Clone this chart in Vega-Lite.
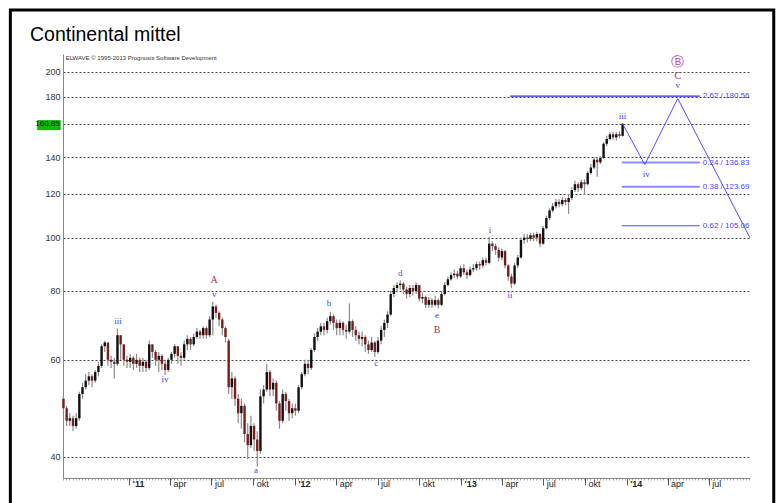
{
  "$schema": "https://vega.github.io/schema/vega-lite/v6.json",
  "width": 687,
  "height": 424,
  "autosize": {"type": "none"},
  "padding": {"left": 63, "top": 54, "right": 28, "bottom": 25},
  "background": "white",
  "title": {"text": "Continental mittel", "anchor": "start", "frame": "group", "dx": -33, "offset": -52, "baseline": "alphabetic", "fontSize": 19.5, "fontWeight": "normal", "font": "Liberation Sans", "color": "#000"},
  "datasets": {
    "w": [
      {"d":"2010-08-09","o":51,"h":52,"l":48,"c":49},
      {"d":"2010-08-16","o":49,"h":49.5,"l":45.5,"c":46.5},
      {"d":"2010-08-23","o":46.5,"h":48,"l":45.5,"c":47},
      {"d":"2010-08-30","o":47,"h":47.5,"l":44.5,"c":45.5},
      {"d":"2010-09-06","o":45.5,"h":48,"l":45,"c":47},
      {"d":"2010-09-13","o":47,"h":52.5,"l":46.5,"c":52},
      {"d":"2010-09-20","o":52,"h":54.5,"l":51,"c":53.5},
      {"d":"2010-09-27","o":53.5,"h":56.5,"l":53,"c":55},
      {"d":"2010-10-04","o":55,"h":57,"l":54,"c":56},
      {"d":"2010-10-11","o":56,"h":56.5,"l":53.5,"c":55},
      {"d":"2010-10-18","o":55,"h":57.5,"l":54.5,"c":57},
      {"d":"2010-10-25","o":57,"h":59.5,"l":56,"c":58.5},
      {"d":"2010-11-01","o":58.5,"h":64,"l":58,"c":63.5},
      {"d":"2010-11-08","o":63.5,"h":65,"l":62,"c":64.5},
      {"d":"2010-11-15","o":64.5,"h":64.5,"l":58.5,"c":60},
      {"d":"2010-11-22","o":60,"h":61,"l":58,"c":59.5},
      {"d":"2010-11-29","o":59.5,"h":60.5,"l":55.5,"c":59},
      {"d":"2010-12-06","o":59,"h":68.4,"l":58.5,"c":66.5},
      {"d":"2010-12-13","o":66.5,"h":66.5,"l":60,"c":64},
      {"d":"2010-12-20","o":64,"h":64,"l":58.5,"c":60},
      {"d":"2010-12-27","o":60,"h":61,"l":58,"c":59.5},
      {"d":"2011-01-03","o":59.5,"h":61.5,"l":58,"c":60.5},
      {"d":"2011-01-10","o":60.5,"h":61,"l":57.5,"c":59},
      {"d":"2011-01-17","o":59,"h":61.5,"l":58,"c":60},
      {"d":"2011-01-24","o":60,"h":60.5,"l":57,"c":58.5},
      {"d":"2011-01-31","o":58.5,"h":60.5,"l":57,"c":59.5},
      {"d":"2011-02-07","o":59.5,"h":60,"l":57,"c":58},
      {"d":"2011-02-14","o":58,"h":65,"l":57.5,"c":64},
      {"d":"2011-02-21","o":64,"h":64,"l":60.5,"c":62},
      {"d":"2011-02-28","o":62,"h":62.5,"l":58.5,"c":60},
      {"d":"2011-03-07","o":60,"h":62,"l":57,"c":61},
      {"d":"2011-03-14","o":61,"h":61.5,"l":57.5,"c":59},
      {"d":"2011-03-21","o":59,"h":60,"l":56.3,"c":57.5},
      {"d":"2011-03-28","o":57.5,"h":60.5,"l":57,"c":60},
      {"d":"2011-04-04","o":60,"h":62,"l":59,"c":61.5},
      {"d":"2011-04-11","o":61.5,"h":64,"l":60.5,"c":63.5},
      {"d":"2011-04-18","o":63.5,"h":63.5,"l":59,"c":61},
      {"d":"2011-04-25","o":61,"h":62,"l":58.5,"c":60.5},
      {"d":"2011-05-02","o":60.5,"h":65,"l":60,"c":64},
      {"d":"2011-05-09","o":64,"h":66.5,"l":62.5,"c":65.5},
      {"d":"2011-05-16","o":65.5,"h":66,"l":62.5,"c":64},
      {"d":"2011-05-23","o":64,"h":67,"l":63.5,"c":66},
      {"d":"2011-05-30","o":66,"h":68.5,"l":65.5,"c":67.5},
      {"d":"2011-06-06","o":67.5,"h":68,"l":65.5,"c":66.5},
      {"d":"2011-06-13","o":66.5,"h":69,"l":65.5,"c":68.5},
      {"d":"2011-06-20","o":68.5,"h":69,"l":65.5,"c":66.5},
      {"d":"2011-06-27","o":66.5,"h":72,"l":66,"c":71},
      {"d":"2011-07-04","o":71,"h":76.5,"l":66.5,"c":75},
      {"d":"2011-07-11","o":75,"h":75.5,"l":71.5,"c":73},
      {"d":"2011-07-18","o":73,"h":73.5,"l":69,"c":71},
      {"d":"2011-07-25","o":71,"h":71.5,"l":66.5,"c":68.5},
      {"d":"2011-08-01","o":68.5,"h":69,"l":64.5,"c":66},
      {"d":"2011-08-08","o":65,"h":65.5,"l":52,"c":53.5},
      {"d":"2011-08-15","o":53.5,"h":57,"l":51,"c":55.5},
      {"d":"2011-08-22","o":55.5,"h":56,"l":49.5,"c":51},
      {"d":"2011-08-29","o":51,"h":52,"l":46,"c":48},
      {"d":"2011-09-05","o":48,"h":51,"l":45,"c":49.5},
      {"d":"2011-09-12","o":49.5,"h":50,"l":42.5,"c":44},
      {"d":"2011-09-19","o":44,"h":46,"l":39.6,"c":42},
      {"d":"2011-09-26","o":42,"h":47.5,"l":41.5,"c":45.5},
      {"d":"2011-10-03","o":45.5,"h":46,"l":41,"c":43},
      {"d":"2011-10-10","o":43,"h":44.5,"l":38.4,"c":41},
      {"d":"2011-10-17","o":41,"h":53,"l":40.5,"c":51.5},
      {"d":"2011-10-24","o":51.5,"h":54,"l":50,"c":53},
      {"d":"2011-10-31","o":53,"h":59,"l":52.5,"c":57},
      {"d":"2011-11-07","o":57,"h":57.5,"l":51.5,"c":53},
      {"d":"2011-11-14","o":53,"h":55.5,"l":51.5,"c":54.5},
      {"d":"2011-11-21","o":54.5,"h":55,"l":48.5,"c":50},
      {"d":"2011-11-28","o":50,"h":50.5,"l":45,"c":46.5},
      {"d":"2011-12-05","o":46.5,"h":53,"l":46,"c":52},
      {"d":"2011-12-12","o":52,"h":52.5,"l":48.5,"c":50.5},
      {"d":"2011-12-19","o":50.5,"h":51,"l":46.5,"c":48},
      {"d":"2011-12-26","o":48,"h":50,"l":47,"c":49},
      {"d":"2012-01-02","o":49,"h":50,"l":47.5,"c":48.5},
      {"d":"2012-01-09","o":48.5,"h":54,"l":48,"c":53.5},
      {"d":"2012-01-16","o":53.5,"h":57,"l":53,"c":56.5},
      {"d":"2012-01-23","o":56.5,"h":60,"l":56,"c":59},
      {"d":"2012-01-30","o":59,"h":60,"l":56.5,"c":58},
      {"d":"2012-02-06","o":58,"h":63,"l":57.5,"c":62.5},
      {"d":"2012-02-13","o":62.5,"h":67,"l":62,"c":66},
      {"d":"2012-02-20","o":66,"h":68.5,"l":65,"c":67.5},
      {"d":"2012-02-27","o":67.5,"h":70,"l":66.5,"c":69},
      {"d":"2012-03-05","o":69,"h":70,"l":66.5,"c":68},
      {"d":"2012-03-12","o":68,"h":71.5,"l":67,"c":70.5},
      {"d":"2012-03-19","o":70.5,"h":73.3,"l":69.5,"c":72},
      {"d":"2012-03-26","o":72,"h":72.5,"l":68,"c":70},
      {"d":"2012-04-02","o":70,"h":71,"l":66.5,"c":68.5},
      {"d":"2012-04-09","o":68.5,"h":71,"l":66.5,"c":70},
      {"d":"2012-04-16","o":70,"h":70.5,"l":66.5,"c":68},
      {"d":"2012-04-23","o":68,"h":69.5,"l":65.5,"c":67.5},
      {"d":"2012-04-30","o":67.5,"h":76,"l":67,"c":70.5},
      {"d":"2012-05-07","o":70.5,"h":71,"l":66,"c":68},
      {"d":"2012-05-14","o":68,"h":69,"l":65,"c":66.5},
      {"d":"2012-05-21","o":66.5,"h":67.5,"l":64,"c":65.5},
      {"d":"2012-05-28","o":65.5,"h":67.5,"l":63.5,"c":66},
      {"d":"2012-06-04","o":66,"h":66.5,"l":62,"c":64},
      {"d":"2012-06-11","o":64,"h":65,"l":61.5,"c":62.5},
      {"d":"2012-06-18","o":62.5,"h":66,"l":62,"c":64.5},
      {"d":"2012-06-25","o":64.5,"h":65,"l":60.8,"c":62},
      {"d":"2012-07-02","o":62,"h":66,"l":61.5,"c":65},
      {"d":"2012-07-09","o":65,"h":69,"l":64,"c":68},
      {"d":"2012-07-16","o":68,"h":71,"l":66,"c":70},
      {"d":"2012-07-23","o":70,"h":73.5,"l":68.5,"c":72.5},
      {"d":"2012-07-30","o":72.5,"h":80,"l":72,"c":79},
      {"d":"2012-08-06","o":79,"h":82,"l":78,"c":81},
      {"d":"2012-08-13","o":81,"h":83,"l":79.5,"c":82},
      {"d":"2012-08-20","o":82,"h":83.7,"l":80.5,"c":82.5},
      {"d":"2012-08-27","o":82.5,"h":83,"l":79,"c":80.5},
      {"d":"2012-09-03","o":80.5,"h":81.5,"l":77.5,"c":79},
      {"d":"2012-09-10","o":79,"h":82,"l":78,"c":81},
      {"d":"2012-09-17","o":81,"h":82,"l":78.5,"c":80},
      {"d":"2012-09-24","o":80,"h":83,"l":79,"c":82},
      {"d":"2012-10-01","o":82,"h":82,"l":76.5,"c":77.5},
      {"d":"2012-10-08","o":77.5,"h":79.5,"l":76,"c":78},
      {"d":"2012-10-15","o":78,"h":78.5,"l":74.5,"c":75.5},
      {"d":"2012-10-22","o":75.5,"h":78,"l":74.5,"c":77},
      {"d":"2012-10-29","o":77,"h":77.5,"l":74.5,"c":75.5},
      {"d":"2012-11-05","o":75.5,"h":78.5,"l":75,"c":77},
      {"d":"2012-11-12","o":77,"h":77.5,"l":74.4,"c":75.5},
      {"d":"2012-11-19","o":75.5,"h":80,"l":75,"c":79},
      {"d":"2012-11-26","o":79,"h":83,"l":78.5,"c":82},
      {"d":"2012-12-03","o":82,"h":85,"l":81.5,"c":84},
      {"d":"2012-12-10","o":84,"h":86.5,"l":83.5,"c":85.5},
      {"d":"2012-12-17","o":85.5,"h":87.5,"l":84.5,"c":86},
      {"d":"2012-12-24","o":86,"h":87,"l":84,"c":85},
      {"d":"2012-12-31","o":85,"h":89,"l":84.5,"c":88},
      {"d":"2013-01-07","o":88,"h":89.5,"l":85.5,"c":86.5},
      {"d":"2013-01-14","o":86.5,"h":87.5,"l":84,"c":85.5},
      {"d":"2013-01-21","o":85.5,"h":88.5,"l":85,"c":87.5},
      {"d":"2013-01-28","o":87.5,"h":89.5,"l":86.5,"c":88},
      {"d":"2013-02-04","o":88,"h":90.5,"l":87,"c":89.5},
      {"d":"2013-02-11","o":89.5,"h":90.5,"l":87.5,"c":89},
      {"d":"2013-02-18","o":89,"h":92,"l":88,"c":91},
      {"d":"2013-02-25","o":91,"h":92,"l":89,"c":90},
      {"d":"2013-03-04","o":90,"h":100.3,"l":89.5,"c":97.5},
      {"d":"2013-03-11","o":97.5,"h":98.5,"l":94.5,"c":96.5},
      {"d":"2013-03-18","o":96.5,"h":97.5,"l":93,"c":95},
      {"d":"2013-03-25","o":95,"h":96,"l":90.5,"c":92},
      {"d":"2013-04-01","o":92,"h":95.5,"l":91,"c":94.5},
      {"d":"2013-04-08","o":94.5,"h":95,"l":88,"c":89},
      {"d":"2013-04-15","o":89,"h":89.5,"l":83.5,"c":85},
      {"d":"2013-04-22","o":85,"h":86,"l":80.9,"c":82.5},
      {"d":"2013-04-29","o":82.5,"h":90,"l":82,"c":89},
      {"d":"2013-05-06","o":89,"h":93,"l":88,"c":92},
      {"d":"2013-05-13","o":92,"h":100,"l":91.5,"c":99},
      {"d":"2013-05-20","o":99,"h":101.5,"l":97.5,"c":100},
      {"d":"2013-05-27","o":100,"h":101.5,"l":98,"c":99.5},
      {"d":"2013-06-03","o":99.5,"h":102,"l":98.5,"c":101},
      {"d":"2013-06-10","o":101,"h":102,"l":98.5,"c":100},
      {"d":"2013-06-17","o":100,"h":102.5,"l":98.5,"c":101.5},
      {"d":"2013-06-24","o":101.5,"h":102,"l":96,"c":97.5},
      {"d":"2013-07-01","o":97.5,"h":105,"l":97,"c":104},
      {"d":"2013-07-08","o":104,"h":109.5,"l":103.5,"c":108.5},
      {"d":"2013-07-15","o":108.5,"h":113,"l":107.5,"c":112},
      {"d":"2013-07-22","o":112,"h":115.5,"l":111,"c":114},
      {"d":"2013-07-29","o":114,"h":117.5,"l":113,"c":116},
      {"d":"2013-08-05","o":116,"h":117.5,"l":113.5,"c":115},
      {"d":"2013-08-12","o":115,"h":118.5,"l":114,"c":117},
      {"d":"2013-08-19","o":117,"h":118,"l":114.5,"c":116},
      {"d":"2013-08-26","o":116,"h":120,"l":110.5,"c":118},
      {"d":"2013-09-02","o":118,"h":123.5,"l":117,"c":122},
      {"d":"2013-09-09","o":122,"h":127,"l":121,"c":125},
      {"d":"2013-09-16","o":125,"h":126,"l":121,"c":123},
      {"d":"2013-09-23","o":123,"h":127.5,"l":122,"c":126},
      {"d":"2013-09-30","o":126,"h":127.5,"l":119.5,"c":125},
      {"d":"2013-10-07","o":125,"h":132,"l":124.5,"c":131},
      {"d":"2013-10-14","o":131,"h":136,"l":130,"c":134},
      {"d":"2013-10-21","o":134,"h":140,"l":133,"c":138.5},
      {"d":"2013-10-28","o":138.5,"h":140,"l":129,"c":137},
      {"d":"2013-11-04","o":137,"h":140.5,"l":136,"c":139.5},
      {"d":"2013-11-11","o":139.5,"h":149,"l":139,"c":148},
      {"d":"2013-11-18","o":148,"h":153,"l":146.5,"c":151},
      {"d":"2013-11-25","o":151,"h":155.5,"l":150,"c":154},
      {"d":"2013-12-02","o":154,"h":155.5,"l":150.5,"c":152},
      {"d":"2013-12-09","o":152,"h":155.5,"l":150,"c":154},
      {"d":"2013-12-16","o":154,"h":156,"l":151.5,"c":153},
      {"d":"2013-12-23","o":153,"h":161.5,"l":152.5,"c":160.85}
    ],
    "waves": [
      {"d":"2010-12-07","p":70.6,"t":"iii","g":"minor"},
      {"d":"2011-03-21","p":55.3,"t":"iv","g":"minor"},
      {"d":"2011-07-07","p":79.0,"t":"v","g":"minor"},
      {"d":"2011-07-07","p":83.6,"t":"A","g":"inter"},
      {"d":"2011-10-07","p":37.9,"t":"a","g":"minor"},
      {"d":"2012-03-16","p":76.2,"t":"b","g":"minor"},
      {"d":"2012-06-28","p":59.1,"t":"c","g":"minor"},
      {"d":"2012-08-20","p":86.4,"t":"d","g":"minor"},
      {"d":"2012-11-09","p":72.4,"t":"e","g":"minor"},
      {"d":"2012-11-09","p":68.1,"t":"B","g":"inter"},
      {"d":"2013-03-06","p":103.4,"t":"i","g":"minor"},
      {"d":"2013-04-19","p":78.8,"t":"ii","g":"minor"},
      {"d":"2013-12-23","p":165.9,"t":"iii","g":"minor"},
      {"d":"2014-02-13","p":130.7,"t":"iv","g":"minor"},
      {"d":"2014-04-23T12:00:00Z","p":189.2,"t":"v","g":"minor"},
      {"d":"2014-04-23T12:00:00Z","p":196.8,"t":"C","g":"inter"},
      {"d":"2014-04-23T12:00:00Z","p":208.7,"t":"Ⓑ","g":"primary"}
    ],
    "proj": [
      {"d":"2013-12-23","p":160.85},
      {"d":"2014-02-10","p":135.7},
      {"d":"2014-04-23T12:00:00Z","p":178.8},
      {"d":"2014-09-29T16:00:00Z","p":99.9}
    ],
    "fib": [
      {"a":"2013-04-19","b":"2014-06-11","v":180.56,"t":"2.62 / 180.56","k":"ext"},
      {"a":"2013-12-21","b":"2014-06-11","v":136.83,"t":"0.24 / 136.83","k":"light"},
      {"a":"2013-12-21","b":"2014-06-11","v":123.69,"t":"0.38 / 123.69","k":"light"},
      {"a":"2013-12-21","b":"2014-06-11","v":105.06,"t":"0.62 / 105.06","k":"mid"}
    ],
    "tag": [{"a":"2010-06-12","b":"2010-08-03","lo":156.7,"hi":163.4,"v":160.85,"t":"160.85"}],
    "frame": [{"a":"2010-04-14","b":"2014-11-21","lo":31.4,"hi":258.9}],
    "note": [{"d":"2010-08-14","p":211.8,"t":"ELWAVE © 1995-2013 Prognosis Software Development"}]
  },
  "layer": [
    {
      "data": {"name": "frame"},
      "mark": {"type": "rect", "filled": false, "stroke": "#000", "strokeWidth": 3},
      "encoding": {
        "x": {"field": "a", "type": "temporal", "scale": {"type": "utc", "domain": ["2010-08-08T00:00:00Z", "2014-09-29T16:00:00Z"], "nice": false, "padding": 0}, "axis": null},
        "x2": {"field": "b"},
        "y": {"field": "lo", "type": "quantitative", "scale": {"type": "log", "domain": [36.61, 215.4], "nice": false, "zero": false}},
        "y2": {"field": "hi"}
      }
    },
    {
      "data": {"name": "tag"},
      "mark": {"type": "rect", "fill": "#00c000"},
      "encoding": {
        "x": {"field": "a", "type": "temporal", "axis": null},
        "x2": {"field": "b"},
        "y": {"field": "lo", "type": "quantitative"},
        "y2": {"field": "hi"}
      }
    },
    {
      "data": {"name": "tag"},
      "mark": {"type": "text", "align": "right", "baseline": "middle", "dx": -1, "fontSize": 8, "font": "Liberation Sans", "color": "#111"},
      "encoding": {
        "x": {"field": "b", "type": "temporal", "axis": null},
        "y": {"field": "v", "type": "quantitative"},
        "text": {"field": "t"}
      }
    },
    {
      "data": {"name": "note"},
      "mark": {"type": "text", "align": "left", "baseline": "middle", "fontSize": 6, "font": "Liberation Sans", "color": "#333"},
      "encoding": {
        "x": {"field": "d", "type": "temporal", "axis": null},
        "y": {"field": "p", "type": "quantitative"},
        "text": {"field": "t"}
      }
    },
    {
      "data": {"name": "w"},
      "mark": {"type": "rule", "color": "#8a8a8a", "strokeWidth": 1.2},
      "encoding": {
        "x": {"field": "d", "type": "temporal", "axis": {"orient": "bottom", "tickCount": {"interval": "week", "step": 1}, "labels": false, "domain": false, "tickSize": 2, "tickColor": "#aaa", "grid": false, "title": null}},
        "y": {"field": "l", "type": "quantitative"},
        "y2": {"field": "h"}
      }
    },
    {
      "data": {"name": "w"},
      "mark": {"type": "bar", "size": 2.4},
      "encoding": {
        "x": {"field": "d", "type": "temporal", "axis": {
          "orient": "bottom",
          "values": [
            {"year":2011,"month":1,"date":1,"utc":true},{"year":2011,"month":4,"date":1,"utc":true},{"year":2011,"month":7,"date":1,"utc":true},{"year":2011,"month":10,"date":1,"utc":true},
            {"year":2012,"month":1,"date":1,"utc":true},{"year":2012,"month":4,"date":1,"utc":true},{"year":2012,"month":7,"date":1,"utc":true},{"year":2012,"month":10,"date":1,"utc":true},
            {"year":2013,"month":1,"date":1,"utc":true},{"year":2013,"month":4,"date":1,"utc":true},{"year":2013,"month":7,"date":1,"utc":true},{"year":2013,"month":10,"date":1,"utc":true},
            {"year":2014,"month":1,"date":1,"utc":true},{"year":2014,"month":4,"date":1,"utc":true},{"year":2014,"month":7,"date":1,"utc":true}
          ],
          "labelExpr": "utcmonth(datum.value) == 0 ? \"'\" + utcFormat(datum.value, '%y') : ['jan','feb','mar','apr','maj','jun','jul','aug','sep','okt','nov','dec'][utcmonth(datum.value)]",
          "labelFontWeight": {"condition": {"test": "utcmonth(datum.value) == 0", "value": "bold"}, "value": "normal"},
          "tickSize": 7, "tickColor": "#555", "domainColor": "#888", "labelAlign": "left", "labelBaseline": "top", "labelPadding": -6, "labelOffset": 3,
          "labelFontSize": 9, "labelColor": "#222", "labelFont": "Liberation Sans", "grid": false, "title": null
        }},
        "y": {"field": "o", "type": "quantitative", "axis": {
          "values": [40, 60, 80, 100, 120, 140, 160.85, 180, 200],
          "format": "d",
          "labelExpr": "datum.value == 160.85 ? '' : datum.label",
          "grid": true, "gridDash": [2, 2], "gridColor": "#444", "gridWidth": 1,
          "ticks": false, "labelPadding": 3, "labelFontSize": 9, "labelColor": "#333", "labelFont": "Liberation Sans",
          "domainColor": "#888", "title": null
        }},
        "y2": {"field": "c"},
        "color": {"condition": {"test": "datum.c < datum.o", "value": "#7a1c1c"}, "value": "#111111"}
      }
    },
    {
      "data": {"name": "fib"},
      "mark": {"type": "rule"},
      "encoding": {
        "x": {"field": "a", "type": "temporal", "axis": null},
        "x2": {"field": "b"},
        "y": {"field": "v", "type": "quantitative"},
        "color": {"field": "k", "type": "nominal", "scale": {"type": "ordinal", "domain": ["ext", "light", "mid"], "range": ["#2a2aff", "#8c8cff", "#4a4aff"]}, "legend": null},
        "strokeWidth": {"field": "k", "type": "nominal", "scale": {"type": "ordinal", "domain": ["ext", "light", "mid"], "range": [1.2, 2, 1]}, "legend": null}
      }
    },
    {
      "data": {"name": "fib"},
      "mark": {"type": "text", "align": "left", "baseline": "middle", "dx": 3, "fontSize": 8, "font": "Liberation Sans", "color": "#4646ff"},
      "encoding": {
        "x": {"field": "b", "type": "temporal", "axis": null},
        "y": {"field": "v", "type": "quantitative"},
        "text": {"field": "t"}
      }
    },
    {
      "data": {"name": "proj"},
      "mark": {"type": "line", "color": "#5050ff", "strokeWidth": 1},
      "encoding": {
        "x": {"field": "d", "type": "temporal", "axis": null},
        "y": {"field": "p", "type": "quantitative"}
      }
    },
    {
      "data": {"name": "waves"},
      "mark": {"type": "text", "align": "center", "baseline": "middle", "font": "Liberation Serif"},
      "encoding": {
        "x": {"field": "d", "type": "temporal", "axis": null},
        "y": {"field": "p", "type": "quantitative"},
        "text": {"field": "t"},
        "color": {"field": "g", "type": "nominal", "scale": {"type": "ordinal", "domain": ["minor", "inter", "primary"], "range": ["#3c3cff", "#a8305a", "#b048a8"]}, "legend": null},
        "size": {"field": "g", "type": "nominal", "scale": {"type": "ordinal", "domain": ["minor", "inter", "primary"], "range": [9, 10, 13]}, "legend": null}
      }
    }
  ],
  "resolve": {"axis": {"x": "independent"}, "scale": {"color": "independent", "size": "independent", "strokeWidth": "independent"}},
  "config": {
    "view": {"stroke": null},
    "font": "Liberation Sans"
  }
}
